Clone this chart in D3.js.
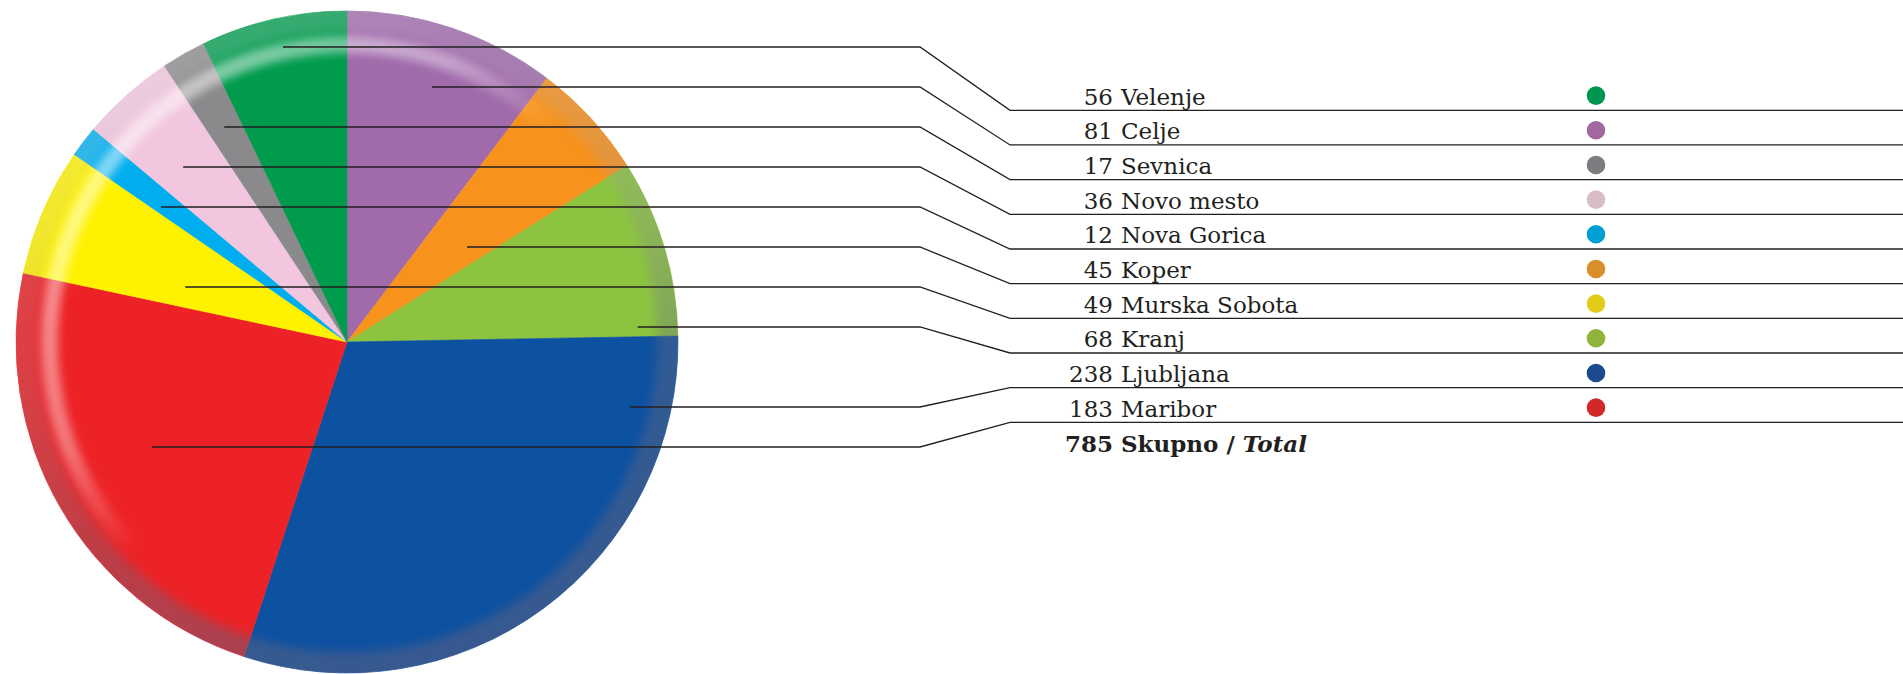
<!DOCTYPE html>
<html>
<head>
<meta charset="utf-8">
<script src="https://cdn.jsdelivr.net/npm/d3@7"></script>
<style>
  html, body { margin: 0; padding: 0; background: #ffffff; }
  svg { display: block; }
</style>
</head>
<body>
<svg id="chart" width="1903" height="674"></svg>
<script>
// Slices, clockwise from 12 o'clock
const pieCities = ["Celje", "Koper", "Kranj", "Ljubljana", "Maribor", "Murska Sobota", "Nova Gorica", "Novo mesto", "Sevnica", "Velenje"];
const pieValues = [81, 45, 68, 238, 183, 49, 12, 36, 17, 56];
const sliceColors = ["#a06aab", "#f7921e", "#8cc43f", "#0a51a1", "#ec2327", "#fff200", "#00aeef", "#f1c6de", "#8a8a8c", "#009b4e"];

// Legend rows, top to bottom
const legendCities = ["Velenje", "Celje", "Sevnica", "Novo mesto", "Nova Gorica", "Koper", "Murska Sobota", "Kranj", "Ljubljana", "Maribor"];
const dotColors = ["#00964f", "#a269a0", "#7d7c80", "#d8bcc8", "#00a0d4", "#da8e2a", "#e1cd19", "#8fb33b", "#1c4a8d", "#d3282a"];
const totalLabel = "Skupno";
const totalLabelEn = "Total";

// Where each leader starts along the row's chord through its slice (0 = left edge, 1 = right edge)
const leaderAnchor = [0.55, 0.44, 0.50, 0.48, 0.29, 0.61, 0.54, 0.87, 0.88, 0.425];

// Layout
const W = 1903, H = 674;
const cx = 347, cy = 342, R = 331;
const rowTop = 110.3, rowStep = 34.67;
const leftTop = 47, leftStep = 40, leftGapAfter = 8;
const elbowA = 920, elbowB = 1010;
const numX = 1113, nameX = 1121;
const dotX = 1596, dotR = 9.3;
const FONT = "'DejaVu Serif', 'Liberation Serif', serif";

const svg = d3.select("#chart");
const defs = svg.append("defs");

// Everything pie-related is drawn in a group whose origin is the pie centre
defs.append("clipPath").attr("id", "pieClip")
  .append("circle").attr("cx", 0).attr("cy", 0).attr("r", R);

function blurFilter(id, sd) {
  defs.append("filter").attr("id", id)
    .attr("filterUnits", "userSpaceOnUse")
    .attr("x", -R - 60).attr("y", -R - 60).attr("width", 2 * R + 120).attr("height", 2 * R + 120)
    .append("feGaussianBlur").attr("stdDeviation", sd);
}
blurFilter("softRim", 5);
blurFilter("softHi", 4);
blurFilter("softEdge", 0.6);

function gradient(id, x1, y1, x2, y2, stops) {
  const g = defs.append("linearGradient").attr("id", id)
    .attr("gradientUnits", "userSpaceOnUse")
    .attr("x1", x1).attr("y1", y1).attr("x2", x2).attr("y2", y2);
  stops.forEach(s => g.append("stop").attr("offset", s[0]).attr("stop-color", s[1]).attr("stop-opacity", s[2]));
}
// Outer rim: pale along the top, grey towards the bottom right
gradient("rimGrad", -R * 0.35, -R, R * 0.35, R,
  [[0, "#e6e6ea", 0.24], [0.35, "#a4a4ac", 0.22], [0.65, "#6c6c7c", 0.36], [1, "#5a5e80", 0.55]]);
// Inner glint: upper left only
gradient("hiGrad", -R * 0.75, -R * 0.75, R * 0.45, R * 0.45,
  [[0, "#ffffff", 0.55], [0.4, "#ffffff", 0.38], [0.62, "#ffffff", 0.0], [1, "#ffffff", 0.0]]);

// Pie
const pieData = pieCities.map((c, i) => ({ city: c, value: pieValues[i], color: sliceColors[i] }));
const total = d3.sum(pieValues);
const arcs = d3.pie().sort(null).value(d => d.value)(pieData);
const arcGen = d3.arc().innerRadius(0).outerRadius(R);

const pieG = svg.append("g").attr("transform", `translate(${cx},${cy})`);
pieG.append("g").attr("filter", "url(#softEdge)")
  .selectAll("path").data(arcs).join("path")
  .attr("d", arcGen)
  .attr("fill", d => d.data.color)
  .attr("stroke", d => d.data.color)
  .attr("stroke-width", 0.6);

// Bevelled rim, kept inside the disc
const ring = (r0, r1) => d3.arc().innerRadius(r0).outerRadius(r1).startAngle(0).endAngle(2 * Math.PI)();
const rimLayer = pieG.append("g").attr("clip-path", "url(#pieClip)");
rimLayer.append("path")
  .attr("d", ring(R - 42, R - 25))
  .attr("fill", "url(#hiGrad)")
  .attr("filter", "url(#softHi)");
rimLayer.append("path")
  .attr("d", ring(R - 21, R + 14))
  .attr("fill", "url(#rimGrad)")
  .attr("filter", "url(#softRim)");

// Horizontal extent of a slice along a given row
function chordSpan(a0, a1, y) {
  let lo = Infinity, hi = -Infinity;
  const dy = y - cy;
  for (let x = cx - R; x <= cx + R; x += 0.25) {
    const dx = x - cx;
    if (dx * dx + dy * dy > R * R) continue;
    let a = Math.atan2(dx, -dy);
    if (a < 0) a += 2 * Math.PI;
    if (a >= a0 && a <= a1) { lo = Math.min(lo, x); hi = Math.max(hi, x); }
  }
  return [lo, hi];
}

// Row scales
const rowY = d3.scalePoint().domain(d3.range(legendCities.length + 1)).range([rowTop, rowTop + rowStep * legendCities.length]);
const leftY = d3.scaleLinear().domain([0, 1]).range([leftTop, leftTop + leftStep]);

const arcByCity = new Map(arcs.map(a => [a.data.city, a]));
const rows = legendCities.map((c, i) => {
  const a = arcByCity.get(c);
  const yl = leftY(i < leftGapAfter ? i : i + 1);
  const [lo, hi] = chordSpan(a.startAngle, a.endAngle, yl);
  return {
    city: c, value: a.data.value, dot: dotColors[i],
    yLine: rowY(i), yLeft: yl, xStart: lo + (hi - lo) * leaderAnchor[i]
  };
});

// Leader lines
svg.append("g")
  .selectAll("path").data(rows).join("path")
  .attr("d", d => `M${d.xStart},${d.yLeft}H${elbowA}L${elbowB},${d.yLine}H${W}`)
  .attr("fill", "none")
  .attr("stroke", "#231f20")
  .attr("stroke-width", 1.3);

// Labels
const lab = svg.append("g").attr("font-family", FONT).attr("font-size", 23).attr("fill", "#231f20");
lab.selectAll("text.num").data(rows).join("text").attr("class", "num")
  .attr("x", numX).attr("y", d => d.yLine - 5.5)
  .attr("text-anchor", "end")
  .text(d => d.value);
lab.selectAll("text.name").data(rows).join("text").attr("class", "name")
  .attr("x", nameX).attr("y", d => d.yLine - 5.5)
  .text(d => d.city);

// Total row
const yTot = rowY(legendCities.length) - 5.5;
lab.append("text").attr("x", numX).attr("y", yTot).attr("text-anchor", "end").attr("font-weight", "bold").text(total);
const tt = lab.append("text").attr("x", nameX).attr("y", yTot).attr("font-weight", "bold");
tt.append("tspan").text(totalLabel + " / ");
tt.append("tspan").attr("font-style", "italic").text(totalLabelEn);

// Colour dots
svg.append("g").selectAll("circle").data(rows).join("circle")
  .attr("cx", dotX).attr("cy", d => d.yLine - 14.7).attr("r", dotR)
  .attr("fill", d => d.dot);
</script>
</body>
</html>
